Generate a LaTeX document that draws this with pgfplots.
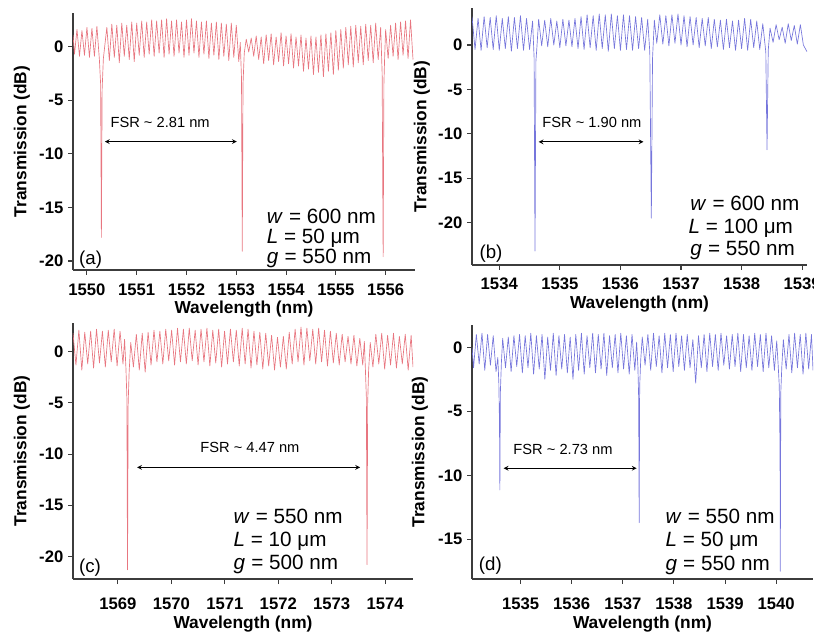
\documentclass[border=0pt]{standalone}
\usepackage{fontspec}
\setmainfont{Liberation Sans}
\usepackage{pgfplots}
\pgfplotsset{compat=1.18}

\definecolor{curvered}{RGB}{232,118,128}
\definecolor{curveblue}{RGB}{118,118,220}
\definecolor{axisgray}{RGB}{60,60,60}

\newcommand{\tickfont}{\fontsize{12.5}{13}\selectfont\bfseries}
\newcommand{\tl}[1]{{\tickfont #1}}
\newcommand{\labfont}{\fontsize{13}{14}\selectfont\bfseries}
\newcommand{\parfont}{\fontsize{15.5}{16}\selectfont}
\newcommand{\fsrfont}{\fontsize{11}{12}\selectfont}
\newcommand{\letfont}{\fontsize{14}{15}\selectfont}

\pgfplotsset{
  panel/.style={
    scale only axis, anchor=south west,
    axis lines*=left,
    axis line style={axisgray, line width=0.8pt},
    tick style={axisgray, line width=0.8pt},
    tick align=outside, major tick length=3.75pt,
    tick label style={font=\tickfont},
    scaled ticks=false,
    enlargelimits=false,
    every axis plot/.append style={line width=0.5pt, line join=round},
  },
}
\tikzset{
  note/.style={font=\parfont, anchor=base west, inner sep=0pt},
  letter/.style={font=\letfont, anchor=base west, inner sep=0pt},
}

\begin{document}
\begin{tikzpicture}
\useasboundingbox (0,0) rectangle (610.5pt,474pt);

% ---------------- (a)
\begin{axis}[panel, name=pa, at={(54.75pt,271.5pt)},
  width=256.5pt, height=192.75pt,
  xmin=1549.72, xmax=1556.59, ymin=-20.84, ymax=3.14,
  xtick={1550,1551,...,1556},
  xticklabels={\tl{1550},\tl{1551},\tl{1552},\tl{1553},\tl{1554},\tl{1555},\tl{1556}},
  ytick={-20,-15,...,0}, yticklabels={\tl{-20},\tl{-15},\tl{-10},\tl{-5},\tl{0}},
  xticklabel style={yshift=-3pt}]
\addplot[curvered] coordinates {
(1549.72,1.1)(1549.75,-0.7)(1549.80,1.6)(1549.85,-0.9)(1549.90,1.5)(1549.95,-0.8)(1550.00,1.8)(1550.05,-1.0)(1550.10,1.7)(1550.15,-0.9)(1550.20,1.9)(1550.25,-1.2)(1550.275,-3.5)(1550.29,-17.8)(1550.305,-4.0)(1550.33,-1.1)(1550.40,1.8)(1550.45,-1.3)(1550.50,2.1)(1550.55,-1.0)(1550.60,2.0)(1550.65,-1.5)(1550.70,2.2)(1550.75,-0.9)(1550.80,2.0)(1550.85,-1.2)(1550.90,2.3)(1550.95,-1.4)(1551.00,2.2)(1551.05,-0.8)(1551.10,2.4)(1551.15,-1.0)(1551.20,2.3)(1551.25,-0.7)(1551.30,2.5)(1551.35,-0.9)(1551.40,2.4)(1551.45,-0.6)(1551.50,2.5)(1551.55,-1.0)(1551.60,2.6)(1551.65,-0.7)(1551.70,2.4)(1551.75,-0.9)(1551.80,2.5)(1551.85,-0.6)(1551.90,2.3)(1551.95,-1.0)(1552.00,2.5)(1552.05,-0.8)(1552.10,2.6)(1552.15,-0.6)(1552.20,2.4)(1552.25,-1.0)(1552.30,2.3)(1552.35,-0.7)(1552.40,2.4)(1552.45,-1.1)(1552.50,2.2)(1552.55,-0.8)(1552.60,2.3)(1552.65,-1.2)(1552.70,2.2)(1552.75,-0.9)(1552.80,2.1)(1552.85,-1.3)(1552.90,2.2)(1552.95,-1.0)(1553.00,2.0)(1553.05,-1.4)(1553.08,0.4)(1553.105,-3.0)(1553.12,-19.1)(1553.135,-3.5)(1553.16,-0.6)(1553.20,0.7)(1553.25,-0.5)(1553.30,0.8)(1553.35,-0.9)(1553.40,1.0)(1553.45,-1.2)(1553.50,0.9)(1553.55,-1.6)(1553.60,1.1)(1553.65,-1.3)(1553.70,1.2)(1553.75,-1.7)(1553.80,0.9)(1553.85,-1.4)(1553.90,1.3)(1553.95,-1.8)(1554.00,1.0)(1554.05,-1.6)(1554.10,1.2)(1554.15,-2.0)(1554.20,0.9)(1554.25,-1.8)(1554.30,1.1)(1554.35,-2.3)(1554.40,0.8)(1554.45,-2.1)(1554.50,1.0)(1554.55,-2.6)(1554.60,0.9)(1554.65,-2.4)(1554.70,1.1)(1554.75,-2.8)(1554.80,1.2)(1554.85,-2.3)(1554.90,1.3)(1554.95,-2.6)(1555.00,1.5)(1555.05,-2.2)(1555.10,1.6)(1555.15,-2.0)(1555.20,1.8)(1555.25,-1.7)(1555.30,1.9)(1555.35,-1.9)(1555.40,2.0)(1555.45,-1.5)(1555.50,1.9)(1555.55,-1.7)(1555.60,2.1)(1555.65,-1.3)(1555.70,2.0)(1555.75,-1.5)(1555.80,2.2)(1555.85,-1.2)(1555.90,1.8)(1555.93,-2.5)(1555.95,-19.6)(1555.965,-3.5)(1555.98,-1.0)(1556.00,1.6)(1556.05,-1.1)(1556.10,2.0)(1556.15,-0.9)(1556.20,2.2)(1556.25,-1.2)(1556.30,2.3)(1556.35,-0.8)(1556.40,2.4)(1556.45,-1.1)(1556.50,2.5)(1556.55,-1.2)
};
\draw[<->, >=stealth, line width=0.6pt] (axis cs:1550.36,-8.86) -- (axis cs:1553.01,-8.86);
\node[font=\fsrfont] at (axis cs:1551.47,-7.1) {FSR \textasciitilde\ 2.81 nm};
\node[letter] at (axis cs:1549.84,-20.36) {(a)};
\node[note] at (axis cs:1553.61,-16.54) {\textit{w}\hspace{0.3em}= 600 nm};
\node[note] at (axis cs:1553.61,-18.34) {\textit{L} = 50 μm};
\node[note] at (axis cs:1553.61,-20.2) {\textit{g}\hspace{0.3em}= 550 nm};
\end{axis}
\node[font=\labfont] at ([yshift=-29pt]pa.south) {Wavelength (nm)};
\node[font=\labfont, rotate=90] at ([xshift=-38.25pt]pa.west) {Transmission (dB)};

% ---------------- (b)
\begin{axis}[panel, name=pb, at={(354pt,275.25pt)},
  width=251.25pt, height=192.75pt,
  xmin=1533.55, xmax=1539.08, ymin=-24.77, ymax=4.17,
  xtick={1534,1535,...,1539},
  xticklabels={\tl{1534},\tl{1535},\tl{1536},\tl{1537},\tl{1538},\tl{1539}},
  ytick={-20,-15,...,0}, yticklabels={\tl{-20},\tl{-15},\tl{-10},\tl{-5},\tl{0}},
  xticklabel style={yshift=-2.25pt}]
\addplot[curveblue] coordinates {
(1533.55,3.2)(1533.60,-0.5)(1533.65,3.0)(1533.70,-0.6)(1533.75,3.2)(1533.80,-0.3)(1533.85,3.1)(1533.90,-0.5)(1533.95,3.3)(1534.00,-0.6)(1534.05,3.0)(1534.10,-0.4)(1534.15,3.2)(1534.20,-0.7)(1534.25,3.1)(1534.30,-0.4)(1534.35,3.3)(1534.40,-0.6)(1534.45,3.0)(1534.50,-0.5)(1534.55,2.7)(1534.575,-1.4)(1534.59,-23.2)(1534.605,-1.8)(1534.62,-0.4)(1534.65,2.9)(1534.70,-0.1)(1534.75,2.8)(1534.80,-0.2)(1534.85,3.0)(1534.90,0.0)(1534.95,2.7)(1535.00,-0.3)(1535.05,2.9)(1535.10,-0.1)(1535.15,2.8)(1535.20,-0.2)(1535.25,3.0)(1535.30,-0.4)(1535.35,3.2)(1535.40,-0.5)(1535.45,3.4)(1535.50,-0.3)(1535.55,3.3)(1535.60,-0.6)(1535.65,3.5)(1535.70,-0.4)(1535.75,3.4)(1535.80,-0.7)(1535.85,3.5)(1535.90,-0.4)(1535.95,3.3)(1536.00,-0.6)(1536.05,3.4)(1536.10,-0.5)(1536.15,3.3)(1536.20,-0.6)(1536.25,3.2)(1536.30,-0.4)(1536.35,3.1)(1536.40,-0.6)(1536.45,2.9)(1536.485,-0.8)(1536.51,-19.5)(1536.53,-1.5)(1536.56,2.8)(1536.60,0.2)(1536.65,3.4)(1536.70,0.1)(1536.75,3.3)(1536.80,-0.1)(1536.85,3.4)(1536.90,0.2)(1536.95,3.5)(1537.00,0.0)(1537.05,3.3)(1537.10,-0.2)(1537.15,3.2)(1537.20,0.0)(1537.25,3.1)(1537.30,-0.3)(1537.35,3.0)(1537.40,-0.1)(1537.45,3.1)(1537.50,-0.4)(1537.55,2.9)(1537.60,-0.2)(1537.65,2.8)(1537.70,-0.5)(1537.75,2.9)(1537.80,-0.3)(1537.85,2.7)(1537.90,-0.6)(1537.95,2.8)(1538.00,-0.4)(1538.05,3.0)(1538.10,-0.6)(1538.15,2.9)(1538.20,-0.3)(1538.25,2.7)(1538.30,-0.5)(1538.35,2.4)(1538.40,-0.8)(1538.42,-11.8)(1538.44,-0.6)(1538.47,1.9)(1538.52,0.3)(1538.57,2.3)(1538.62,0.6)(1538.67,2.0)(1538.72,0.2)(1538.77,2.4)(1538.82,0.5)(1538.87,2.2)(1538.92,0.1)(1538.97,2.3)(1539.02,0.0)(1539.08,-0.75)
};
\draw[<->, >=stealth, line width=0.6pt] (axis cs:1534.65,-10.9) -- (axis cs:1536.38,-10.9);
\node[font=\fsrfont] at (axis cs:1535.53,-8.75) {FSR \textasciitilde\ 1.90 nm};
\node[letter] at (axis cs:1533.67,-24.0) {(b)};
\node[note] at (axis cs:1537.15,-18.58) {\textit{w}\hspace{0.3em}= 600 nm};
\node[note] at (axis cs:1537.12,-21.2) {\textit{L} = 100 μm};
\node[note] at (axis cs:1537.15,-23.65) {\textit{g}\hspace{0.3em}= 550 nm};
\end{axis}
\node[font=\labfont] at ([yshift=-29pt]pb.south) {Wavelength (nm)};
\node[font=\labfont, rotate=90] at ([xshift=-37.5pt]pb.west) {Transmission (dB)};

% ---------------- (c)
\begin{axis}[panel, name=pc, at={(54.75pt,39.75pt)},
  width=255pt, height=192pt,
  xmin=1568.16, xmax=1574.52, ymin=-22.2, ymax=2.8,
  xtick={1569,1570,...,1574},
  xticklabels={\tl{1569},\tl{1570},\tl{1571},\tl{1572},\tl{1573},\tl{1574}},
  ytick={-20,-15,...,0}, yticklabels={\tl{-20},\tl{-15},\tl{-10},\tl{-5},\tl{0}},
  xticklabel style={yshift=-7pt}]
\addplot[curvered] coordinates {
(1568.160,1.8)(1568.215,-1.3)(1568.270,2.1)(1568.325,-1.8)(1568.380,1.9)(1568.435,-1.2)(1568.490,2.0)(1568.545,-1.6)(1568.600,2.2)(1568.655,-1.1)(1568.710,2.0)(1568.765,-1.5)(1568.820,2.1)(1568.875,-1.0)(1568.930,2.2)(1568.985,-1.4)(1569.040,2.0)(1569.095,-1.2)(1569.125,1.2)(1569.150,-1.6)(1569.168,-4.5)(1569.180,-21.3)(1569.192,-5.0)(1569.210,-2.0)(1569.240,0.9)(1569.290,-1.5)(1569.345,1.7)(1569.400,-1.8)(1569.455,1.8)(1569.510,-2.0)(1569.565,1.9)(1569.620,-1.3)(1569.675,2.1)(1569.730,-1.0)(1569.785,2.0)(1569.840,-1.2)(1569.895,2.2)(1569.950,-0.9)(1570.005,2.1)(1570.060,-1.3)(1570.115,2.3)(1570.170,-1.0)(1570.225,2.2)(1570.280,-1.2)(1570.335,2.3)(1570.390,-0.9)(1570.445,2.1)(1570.500,-1.3)(1570.555,2.2)(1570.610,-1.0)(1570.665,2.3)(1570.720,-1.4)(1570.775,2.1)(1570.830,-1.1)(1570.885,2.2)(1570.940,-1.5)(1570.995,2.0)(1571.050,-1.2)(1571.105,2.2)(1571.160,-1.0)(1571.215,2.1)(1571.270,-1.4)(1571.325,2.3)(1571.380,-1.2)(1571.435,2.2)(1571.490,-1.6)(1571.545,2.0)(1571.600,-1.3)(1571.655,1.9)(1571.710,-1.7)(1571.765,1.8)(1571.820,-1.4)(1571.875,1.6)(1571.930,-1.8)(1571.985,1.4)(1572.040,-1.5)(1572.095,1.5)(1572.150,-1.7)(1572.205,1.9)(1572.260,-1.2)(1572.315,2.2)(1572.370,-1.0)(1572.425,2.4)(1572.480,-1.3)(1572.535,2.3)(1572.590,-0.9)(1572.645,2.2)(1572.700,-1.2)(1572.755,2.3)(1572.810,-1.0)(1572.865,2.1)(1572.920,-1.4)(1572.975,2.0)(1573.030,-1.1)(1573.085,1.8)(1573.140,-1.3)(1573.195,1.7)(1573.250,-1.0)(1573.305,1.5)(1573.360,-1.2)(1573.415,1.6)(1573.470,-1.4)(1573.525,1.3)(1573.580,-1.3)(1573.610,1.0)(1573.630,-1.8)(1573.648,-4.5)(1573.660,-20.8)(1573.672,-5.0)(1573.690,-1.8)(1573.720,0.9)(1573.770,-1.5)(1573.825,1.7)(1573.880,-1.2)(1573.935,1.8)(1573.990,-1.7)(1574.045,1.6)(1574.100,-1.3)(1574.155,1.8)(1574.210,-1.6)(1574.265,1.5)(1574.320,-1.2)(1574.375,1.7)(1574.430,-1.8)(1574.485,1.6)(1574.520,-1.5)
};
\draw[<->, >=stealth, line width=0.6pt] (axis cs:1569.36,-11.3) -- (axis cs:1573.53,-11.3);
\node[font=\fsrfont] at (axis cs:1571.47,-9.4) {FSR \textasciitilde\ 4.47 nm};
\node[letter] at (axis cs:1568.27,-21.6) {(c)};
\node[note] at (axis cs:1571.16,-16.74) {\textit{w}\hspace{0.3em}= 550 nm};
\node[note] at (axis cs:1571.16,-19.02) {\textit{L} = 10 μm};
\node[note] at (axis cs:1571.16,-21.3) {\textit{g}\hspace{0.3em}= 500 nm};
\end{axis}
\node[font=\labfont] at ([yshift=-33.5pt]pc.south) {Wavelength (nm)};
\node[font=\labfont, rotate=90] at ([xshift=-38.25pt]pc.west) {Transmission (dB)};

% ---------------- (d)
\begin{axis}[panel, name=pd, at={(354pt,39.75pt)},
  width=255.75pt, height=190.5pt,
  xmin=1534.05, xmax=1540.72, ymin=-18.1, ymax=1.74,
  xtick={1535,1536,...,1540},
  xticklabels={\tl{1535},\tl{1536},\tl{1537},\tl{1538},\tl{1539},\tl{1540}},
  ytick={-15,-10,...,0}, yticklabels={\tl{-15},\tl{-10},\tl{-5},\tl{0}},
  xticklabel style={yshift=-7pt}]
\addplot[curveblue] coordinates {
(1534.050,0.0)(1534.080,-1.6)(1534.135,1.0)(1534.190,-1.3)(1534.245,1.1)(1534.300,-1.8)(1534.355,1.0)(1534.410,-1.4)(1534.465,0.9)(1534.520,-1.9)(1534.555,-0.8)(1534.575,-2.8)(1534.588,-6.0)(1534.595,-11.15)(1534.605,-3.5)(1534.625,-1.2)(1534.650,0.7)(1534.705,-1.6)(1534.760,0.8)(1534.815,-1.9)(1534.870,0.9)(1534.925,-1.5)(1534.980,1.0)(1535.035,-2.0)(1535.090,0.9)(1535.145,-1.6)(1535.200,1.1)(1535.255,-2.1)(1535.310,0.9)(1535.365,-1.7)(1535.420,1.0)(1535.475,-2.5)(1535.530,0.8)(1535.585,-1.8)(1535.640,1.1)(1535.695,-2.2)(1535.750,0.9)(1535.805,-1.7)(1535.860,1.0)(1535.915,-2.0)(1535.970,0.8)(1536.025,-2.5)(1536.080,1.0)(1536.135,-1.8)(1536.190,1.1)(1536.245,-2.1)(1536.300,0.9)(1536.355,-1.6)(1536.410,1.1)(1536.465,-2.0)(1536.520,1.0)(1536.575,-1.7)(1536.630,1.1)(1536.685,-2.2)(1536.740,0.9)(1536.795,-1.6)(1536.850,1.0)(1536.905,-2.0)(1536.960,1.1)(1537.015,-1.7)(1537.070,0.9)(1537.125,-2.1)(1537.180,1.0)(1537.235,-1.8)(1537.270,0.4)(1537.295,-1.5)(1537.310,-4.0)(1537.320,-13.7)(1537.330,-3.0)(1537.350,-1.0)(1537.380,0.8)(1537.435,-1.4)(1537.490,1.0)(1537.545,-1.8)(1537.600,1.1)(1537.655,-1.5)(1537.710,0.9)(1537.765,-2.0)(1537.820,1.1)(1537.875,-1.6)(1537.930,1.0)(1537.985,-1.9)(1538.040,1.1)(1538.095,-1.5)(1538.150,0.9)(1538.205,-1.8)(1538.260,1.0)(1538.315,-1.6)(1538.370,0.6)(1538.425,-2.8)(1538.480,0.9)(1538.535,-1.6)(1538.590,1.0)(1538.645,-1.9)(1538.700,1.1)(1538.755,-1.5)(1538.810,1.0)(1538.865,-1.8)(1538.920,1.1)(1538.975,-1.4)(1539.030,0.9)(1539.085,-1.7)(1539.140,1.0)(1539.195,-1.5)(1539.250,1.1)(1539.305,-1.9)(1539.360,1.0)(1539.415,-1.6)(1539.470,0.9)(1539.525,-1.8)(1539.580,1.1)(1539.635,-1.5)(1539.690,1.0)(1539.745,-1.9)(1539.800,1.1)(1539.855,-1.6)(1539.910,0.9)(1539.965,-1.8)(1540.010,0.5)(1540.040,-1.5)(1540.060,-3.0)(1540.075,-8.0)(1540.080,-17.5)(1540.090,-3.5)(1540.110,-1.5)(1540.140,0.6)(1540.195,-1.7)(1540.250,1.0)(1540.305,-2.0)(1540.360,1.1)(1540.415,-1.6)(1540.470,1.0)(1540.525,-2.1)(1540.580,1.1)(1540.635,-1.7)(1540.690,1.0)(1540.720,-1.8)
};
\draw[<->, >=stealth, line width=0.6pt] (axis cs:1534.67,-9.45) -- (axis cs:1537.27,-9.45);
\node[font=\fsrfont] at (axis cs:1535.83,-7.97) {FSR \textasciitilde\ 2.73 nm};
\node[letter] at (axis cs:1534.18,-17.4) {(d)};
\node[note] at (axis cs:1537.83,-13.75) {\textit{w}\hspace{0.3em}= 550 nm};
\node[note] at (axis cs:1537.83,-15.58) {\textit{L} = 50 μm};
\node[note] at (axis cs:1537.83,-17.4) {\textit{g}\hspace{0.3em}= 550 nm};
\end{axis}
\node[font=\labfont] at ([yshift=-33.5pt]pd.south) {Wavelength (nm)};
\node[font=\labfont, rotate=90] at ([xshift=-39pt]pd.west) {Transmission (dB)};
\end{tikzpicture}
\end{document}
